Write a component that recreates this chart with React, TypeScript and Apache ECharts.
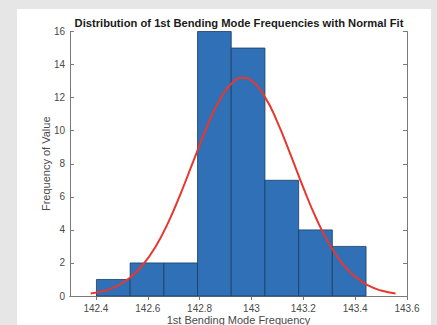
import React, { useEffect, useRef } from "react";
import * as echarts from "echarts";

const binEdges = [142.402, 142.532, 142.662, 142.792, 142.922, 143.052, 143.182, 143.312, 143.442];
const binCounts = [1, 2, 2, 16, 15, 7, 4, 3];
const fitX = [142.38, 142.43, 142.48, 142.53, 142.58, 142.63, 142.68, 142.73, 142.78, 142.83, 142.88, 142.93, 142.968, 143.0, 143.05, 143.1, 143.15, 143.2, 143.25, 143.3, 143.35, 143.4, 143.45, 143.5, 143.556];
const fitY = [0.15, 0.31, 0.6, 1.09, 1.86, 2.98, 4.48, 6.32, 8.33, 10.3, 11.93, 12.95, 13.2, 13.03, 12.09, 10.52, 8.58, 6.55, 4.69, 3.14, 1.98, 1.16, 0.64, 0.33, 0.15];
const xTicks = [142.4, 142.6, 142.8, 143, 143.2, 143.4, 143.6];

const FONT = "Liberation Sans, Arial, sans-serif";
const AXIS_COLOR = "#7a7a7a";
const LABEL_COLOR = "#4a4a4a";

export default function App() {
  const ref = useRef<HTMLDivElement>(null);
  useEffect(() => {
    if (!ref.current) return;
    const chart = echarts.init(ref.current, undefined, { renderer: "svg" });
    const histData = binCounts.map((c, i) => [binEdges[i], binEdges[i + 1], c]);
    const fitData = fitX.map((x, i) => [x, fitY[i]]);
    const baseX = {
      type: "value" as const,
      min: 142.3,
      max: 143.6,
      axisLine: { show: true, lineStyle: { color: AXIS_COLOR, width: 1 } },
      axisTick: { show: true, inside: true, length: 4, customValues: xTicks, lineStyle: { color: AXIS_COLOR } },
      splitLine: { show: false },
    };
    const baseY = {
      type: "value" as const,
      min: 0,
      max: 16,
      interval: 2,
      axisLine: { show: true, lineStyle: { color: AXIS_COLOR, width: 1 } },
      axisTick: { show: true, inside: true, length: 4, lineStyle: { color: AXIS_COLOR } },
      splitLine: { show: false },
    };
    chart.setOption({
      animation: false,
      backgroundColor: "#e6e6e6",
      graphic: [
        {
          type: "rect",
          z: -10,
          shape: { x: 17, y: 9, width: 414, height: 320 },
          style: { fill: "#ffffff" },
          silent: true,
        },
        {
          type: "text",
          x: 239,
          y: 23,
          z: 10,
          style: {
            text: "Distribution of 1st Bending Mode Frequencies with Normal Fit",
            fontFamily: FONT,
            fontSize: 11.2,
            fontWeight: "bold",
            fill: "#1a1a1a",
            textAlign: "center",
            textVerticalAlign: "middle",
          },
        },
      ],
      grid: { left: 70, right: 30, top: 31.5, bottom: 29, containLabel: false, outerBoundsMode: "none" },
      xAxis: [
        {
          ...baseX,
          position: "bottom",
          name: "1st Bending Mode Frequency",
          nameLocation: "middle",
          nameGap: 18,
          nameMoveOverlap: false,
          nameTextStyle: { fontFamily: FONT, fontSize: 11, color: LABEL_COLOR },
          axisLabel: {
            show: true,
            customValues: xTicks,
            margin: 7,
            fontFamily: FONT,
            fontSize: 10,
            color: LABEL_COLOR,
            formatter: (v: number) => String(Math.round(v * 10) / 10),
          },
        },
        { ...baseX, position: "top", axisLabel: { show: false } },
      ],
      yAxis: [
        {
          ...baseY,
          position: "left",
          name: "Frequency of Value",
          nameLocation: "middle",
          nameGap: 19,
          nameMoveOverlap: false,
          nameTextStyle: { fontFamily: FONT, fontSize: 11, color: LABEL_COLOR },
          axisLabel: { show: true, margin: 5, fontFamily: FONT, fontSize: 10, color: LABEL_COLOR },
        },
        { ...baseY, position: "right", axisLabel: { show: false } },
      ],
      series: [
        {
          type: "custom",
          xAxisIndex: 0,
          yAxisIndex: 0,
          encode: { x: [0, 1], y: 2 },
          data: histData,
          renderItem: (params: any, api: any) => {
            const s = api.coord([api.value(0), 0]);
            const e = api.coord([api.value(1), api.value(2)]);
            return {
              type: "rect",
              shape: { x: s[0], y: e[1], width: e[0] - s[0], height: s[1] - e[1] },
              style: { fill: "#2f70b6", stroke: "#1c3c60", lineWidth: 0.8 },
            };
          },
        },
        {
          type: "line",
          xAxisIndex: 0,
          yAxisIndex: 0,
          data: fitData,
          smooth: true,
          showSymbol: false,
          symbol: "none",
          lineStyle: { color: "#e8372d", width: 2 },
          z: 5,
        },
      ],
    });
    return () => chart.dispose();
  }, []);
  return (
    <div
      ref={ref}
      style={{ position: "fixed", left: 0, top: 0, width: 437, height: 325 }}
    />
  );
}
